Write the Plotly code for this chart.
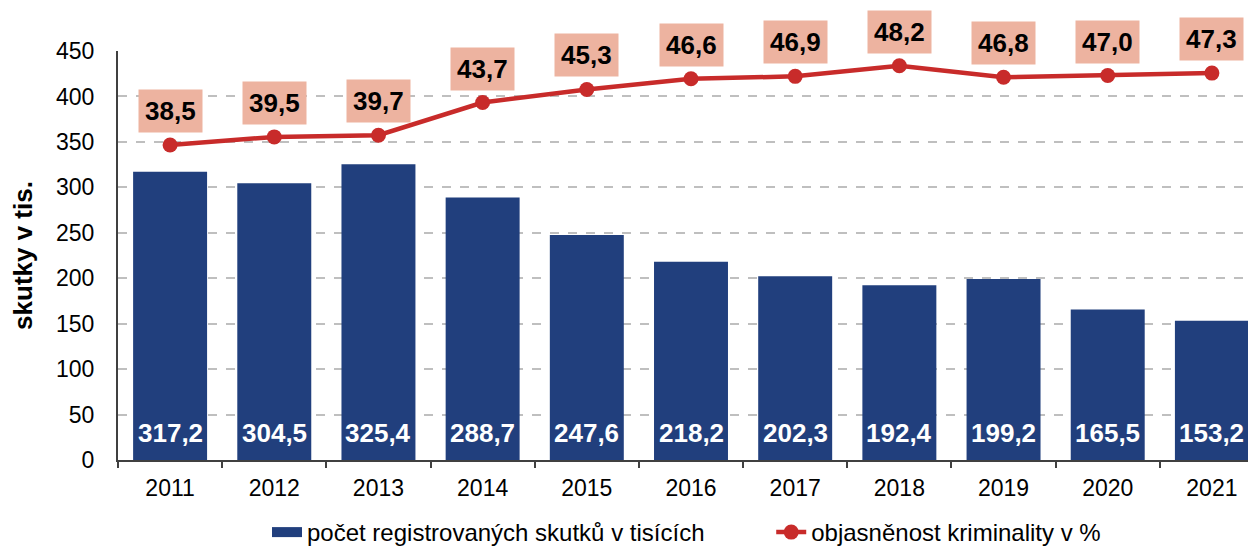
import plotly.graph_objects as go

years = ["2011", "2012", "2013", "2014", "2015", "2016", "2017", "2018", "2019", "2020", "2021"]
skutky = [317.2, 304.5, 325.4, 288.7, 247.6, 218.2, 202.3, 192.4, 199.2, 165.5, 153.2]
objasnenost = [38.5, 39.5, 39.7, 43.7, 45.3, 46.6, 46.9, 48.2, 46.8, 47.0, 47.3]
y_ticks = [0, 50, 100, 150, 200, 250, 300, 350, 400, 450]

FONT = "Liberation Sans, Arial, sans-serif"
BAR_COLOR = "#213F7D"
LINE_COLOR = "#C82B2A"
LABEL_BG = "#EDB3A0"


def fmt(v):
    return f"{v:.1f}".replace(".", ",")


fig = go.Figure()
fig.add_trace(go.Bar(
    x=years, y=skutky, name="počet registrovaných skutků v tisících",
    marker=dict(color=BAR_COLOR, line=dict(width=0)), width=0.71,
    showlegend=False, legendgroup="bars",
))
# legend proxy giving a wide rectangular swatch for the bars
fig.add_trace(go.Scatter(
    x=[None], y=[None], name="počet registrovaných skutků v tisících",
    mode="lines", line=dict(color=BAR_COLOR, width=13), legendgroup="bars",
    legend="legend",
))
fig.add_trace(go.Scatter(
    x=years, y=objasnenost, name="objasněnost kriminality v %", yaxis="y2",
    mode="lines+markers", line=dict(color=LINE_COLOR, width=4.5),
    marker=dict(color=LINE_COLOR, size=15), legend="legend2",
))

annotations = []
for i, v in enumerate(skutky):
    annotations.append(dict(
        x=i, y=0, xref="x", yref="y", text=f"<b>{fmt(v)}</b>", showarrow=False,
        yanchor="middle", yshift=27, font=dict(family=FONT, size=26, color="white"),
    ))
for i, v in enumerate(objasnenost):
    annotations.append(dict(
        x=i, y=v, xref="x", yref="y2", text=f"<b>{fmt(v)}</b>", showarrow=False,
        yanchor="middle", yshift=34, bgcolor=LABEL_BG, borderpad=6,
        font=dict(family=FONT, size=26, color="black"),
    ))

legend_font = dict(family=FONT, size=24, color="black")

fig.update_layout(
    width=1256, height=547,
    margin=dict(l=110, r=0, t=43, b=94),
    plot_bgcolor="white", paper_bgcolor="white",
    font=dict(family=FONT, size=23, color="black"),
    bargap=0.29,
    showlegend=True,
    legend=dict(orientation="h", x=0.13, xanchor="left", y=-0.176, yanchor="middle",
                font=legend_font),
    legend2=dict(orientation="h", x=0.57, xanchor="left", y=-0.176, yanchor="middle",
                 font=legend_font),
    xaxis=dict(
        type="category", range=[-0.5, 10.5], showgrid=False, automargin=False,
        showline=True, linecolor="#404040", linewidth=2,
        ticks="outside", tickson="boundaries", ticklen=6, tickcolor="#404040", tickwidth=2,
        ticklabelstandoff=6,
        tickfont=dict(family=FONT, size=23, color="black"),
    ),
    yaxis=dict(
        range=[0, 450], tickvals=y_ticks, showgrid=True, gridcolor="#BFBFBF",
        griddash="dash", gridwidth=1.5, zeroline=False, automargin=False,
        showline=True, linecolor="#404040", linewidth=2, ticks="",
        ticklabelstandoff=17,
        tickfont=dict(family=FONT, size=23, color="black"),
        title=dict(text="<b>skutky v tis.</b>", font=dict(family=FONT, size=26, color="black"), standoff=20),
    ),
    yaxis2=dict(
        range=[0, 50], overlaying="y", side="right", visible=False, showgrid=False,
    ),
    annotations=annotations,
)

fig.write_html("out.html")
